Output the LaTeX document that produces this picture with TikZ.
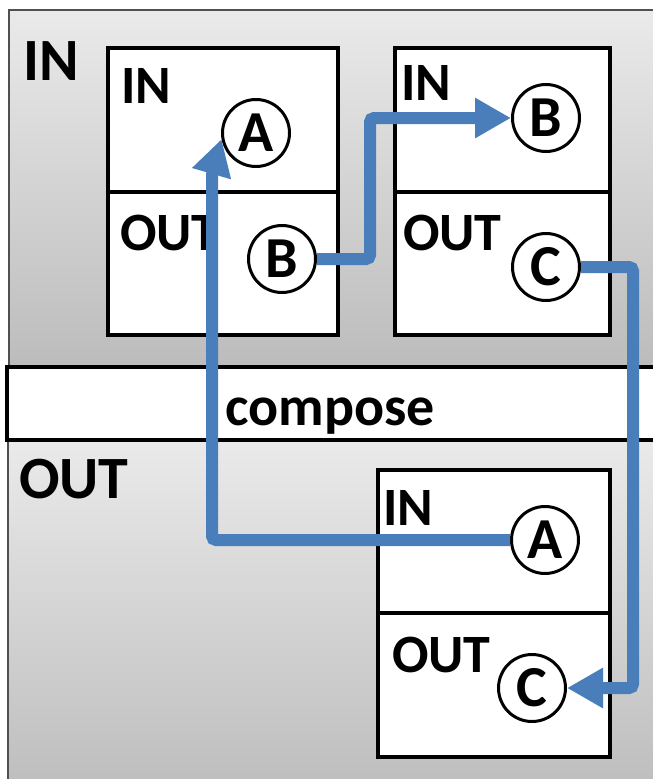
\documentclass[tikz,border=0pt]{standalone}
\usepackage{fontspec}
\setmainfont{Carlito}
\usetikzlibrary{arrows.meta}
\definecolor{FlowBlue}{HTML}{4A7EBB}
\definecolor{PanelLight}{HTML}{EAEAEA}
\definecolor{PanelDark}{HTML}{BCBCBC}
\definecolor{FrameGray}{HTML}{505050}

\begin{document}
\begin{tikzpicture}[x=1pt,y=-1pt, every node/.style={font=\bfseries},
  tag/.style={anchor=base west, inner sep=0pt, font=\bfseries\fontsize{54}{54}\selectfont},
  port/.style={circle, draw, line width=3pt, minimum size=67pt, inner sep=0pt,
    font=\bfseries\fontsize{58}{58}\selectfont},
  flow/.style={FlowBlue, line width=12pt, rounded corners=4pt,
    -{Triangle[length=36pt,width=38pt]}}]
  \useasboundingbox (0,0) rectangle (653,779);
  \clip (0,0) rectangle (653,779);
  % outer panels
  \shade[top color=PanelLight, bottom color=PanelDark, draw=FrameGray, line width=1.5pt]
    (9,10) rectangle (700,367);
  \shade[top color=PanelLight, bottom color=PanelDark, draw=FrameGray, line width=1.5pt]
    (8,440) rectangle (700,800);
  \draw[fill=white, line width=3.5pt] (7,367) rectangle (700,440);
  \node[anchor=base, inner sep=0pt, font=\bfseries\fontsize{56}{56}\selectfont] (compose) at (330,425) {compose};
  \node[tag, font=\bfseries\fontsize{60}{60}\selectfont] (inmain) at (23,80) {IN};
  \node[tag, font=\bfseries\fontsize{60}{60}\selectfont] (outmain) at (19,498) {OUT};
  % component boxes
  \draw[fill=white, line width=4pt] (108,48) rectangle (338,335);
  \draw[line width=4pt] (108,192) -- (338,192);
  \draw[fill=white, line width=4pt] (395,48) rectangle (610,335);
  \draw[line width=4pt] (395,192) -- (610,192);
  \draw[fill=white, line width=4pt] (378,470) rectangle (610,757);
  \draw[line width=4pt] (378,613) -- (610,613);
  \node[tag] (in1) at (121,103) {IN};
  \node[tag] (out1) at (120,250) {OUT};
  \node[tag] (in2) at (401,100) {IN};
  \node[tag] (out2) at (403,250) {OUT};
  \node[tag] (in3) at (383,525) {IN};
  \node[tag] (out3) at (392,672) {OUT};
  % ports
  \node[port] (a1) at (256,133) {A};
  \node[port] (b1) at (282,259) {B};
  \node[port] (b2) at (546,118) {B};
  \node[port] (c2) at (546,267) {C};
  \node[port] (a3) at (545,540) {A};
  \node[port] (c3) at (532,688) {C};
  % wiring
  \coordinate (k1) at (212,172);
  \coordinate (k2) at (370,190);
  \coordinate (k3) at (633,500);
  \draw[flow] (a3.west) -| (k1) -- (a1.190);
  \draw[flow] (b1.east) -| (k2) |- (b2.west);
  \draw[flow] (c2.east) -| (k3) |- (c3.east);
\end{tikzpicture}
\end{document}
